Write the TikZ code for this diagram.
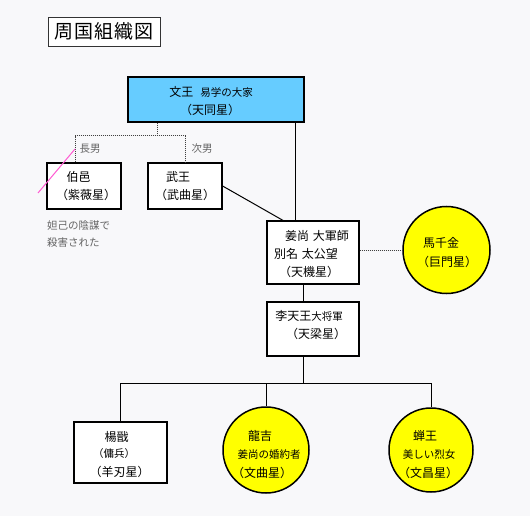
\documentclass[tikz,border=0pt]{standalone}
\usepackage{fontspec}
\setmainfont{Noto Sans CJK JP}
\newcommand\fsz[1]{\fontsize{#1}{#1}\selectfont}
\definecolor{bgc}{RGB}{248,248,250}
\definecolor{wenblue}{RGB}{102,204,255}
\definecolor{staryel}{RGB}{255,255,0}
\definecolor{pinkline}{RGB}{255,90,210}
\definecolor{graytxt}{RGB}{100,100,100}
\begin{document}
\begin{tikzpicture}[x=1pt,y=-1pt,
  box/.style={draw=black, line width=1.2pt, fill=white, inner sep=0pt},
  starc/.style={circle, draw=black, line width=1.5pt, fill=staryel, inner sep=0pt, minimum size=86pt},
  txt/.style={inner sep=0pt, font=\fsz{12}},
  note/.style={inner sep=0pt, text=graytxt, font=\fsz{10.5}},
  conn/.style={line width=1pt, draw=black},
  dots/.style={line width=1pt, draw=black!75, dash pattern=on 1pt off 1pt}]
\fill[bgc] (0,0) rectangle (530,516);
\useasboundingbox (0,0) rectangle (530,516);

% title
\node[draw=black!80, line width=0.8pt, fill=white, minimum width=112pt, minimum height=29pt, inner sep=0pt, font={\fsz{19}\addfontfeatures{LetterSpace=6}}] (title) at (104,31.5) {周国組織図\hspace{-1pt}};

% boxes
\node[box, fill=wenblue, minimum width=176pt, minimum height=45pt] (wen) at (216,99.5) {};
\node[box, minimum width=74pt, minimum height=46pt] (bo) at (84,186) {};
\node[box, minimum width=74pt, minimum height=46pt] (wu) at (185,186) {};
\node[box, minimum width=92pt, minimum height=63pt] (jiang) at (313,252.5) {};
\node[box, minimum width=92pt, minimum height=54pt] (li) at (313,329) {};
\node[box, minimum width=93pt, minimum height=61pt] (yang) at (120.5,452.5) {};
\node[starc, minimum size=87pt] (ma) at (446.5,250) {};
\node[starc] (long) at (266,450) {};
\node[starc, minimum size=84pt] (chan) at (431,450) {};

% texts
\node[txt] (wen1) at (211,92) {文王\hspace{7pt}{\fsz{10.5}易学の大家}};
\node[txt] (wen2) at (210,109.5) {（天同星）};
\node[txt] (bo1) at (78.5,177) {伯邑};
\node[txt] (bo2) at (86,195) {（紫薇星）};
\node[txt] (wu1) at (178,177) {武王};
\node[txt] (wu2) at (185,195) {（武曲星）};
\node[txt] (ji1) at (317,236) {姜尚\hspace{4pt}大軍師};
\node[txt] (ji2) at (306,254) {別名\hspace{4pt}太公望};
\node[txt] (ji3) at (309,272) {（天機星）};
\node[txt] (li1) at (309,316) {李天王{\fsz{10.5}大将軍}};
\node[txt] (li2) at (316,334) {（天梁星）};
\node[txt] (ma1) at (441,243) {馬千金};
\node[txt] (ma2) at (447,262) {（巨門星）};
\node[txt] (ya1) at (116.5,437) {楊戩};
\node[txt, font=\fsz{10.5}] (ya2) at (114,454) {（傭兵）};
\node[txt] (ya3) at (119.5,472) {（羊刃星）};
\node[txt] (lo1) at (260,436) {龍吉};
\node[txt, font=\fsz{10.5}] (lo2) at (269,455) {姜尚の婚約者};
\node[txt] (lo3) at (262,473) {（文曲星）};
\node[txt] (ch1) at (425,436) {蝉王};
\node[txt, font=\fsz{10.5}] (ch2) at (429,455) {美しい烈女};
\node[txt] (ch3) at (428,473) {（文昌星）};

% notes
\node[note] (n1) at (90,149) {長男};
\node[note] (n2) at (202,149) {次男};
\node[note, anchor=west] (n3) at (47,226) {妲己の陰謀で};
\node[note, anchor=west] (n4) at (47,243) {殺害された};

% connector coordinates
\coordinate (x295) at (295,0);
\coordinate (x283) at (283,0);
\coordinate (x303) at (303,0);
\coordinate (d0) at (157,136);
\coordinate (d1) at (75,136);
\coordinate (d2) at (185,136);
\coordinate (bar) at (0,383);
\coordinate (p1) at (75,149);
\coordinate (p2) at (38,193);

% connectors
\draw[conn] (x295 |- wen.south) -- (x295 |- jiang.north);
\draw[dots] (d0 |- wen.south) -- (d0);
\draw[dots] (d1 |- bo.north) -- (d1) -- (d2) -- (d2 |- wu.north);
\draw[conn] (wu.east) -- (x283 |- jiang.north);
\draw[dots] (jiang.east |- ma.west) -- (ma.west);
\draw[conn] (x303 |- jiang.south) -- (x303 |- li.north);
\draw[conn] (x303 |- li.south) -- (x303 |- bar);
\draw[conn] (yang.north) -- (yang.north |- bar) -- (chan.north |- bar) -- (chan.north);
\draw[conn] (long.north |- bar) -- (long.north);
\draw[pinkline, line width=1pt] (p1) -- (p2);
\end{tikzpicture}
\end{document}
